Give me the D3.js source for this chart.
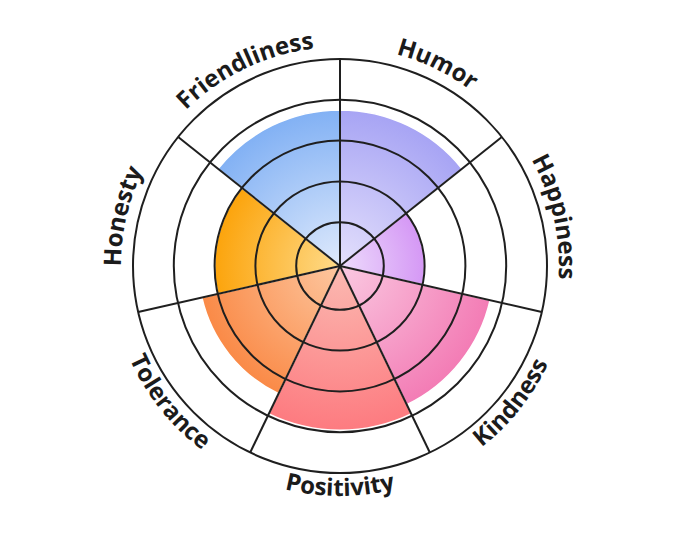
<!DOCTYPE html>
<html>
<head>
<meta charset="utf-8">
<script src="https://cdn.jsdelivr.net/npm/d3@7"></script>
<style>
  html, body { margin: 0; padding: 0; background: #ffffff; }
  svg { display: block; }
</style>
</head>
<body>
<svg id="chart" width="680" height="548"></svg>
<script>
// ---- data ----
const categories = ["Humor", "Happiness", "Kindness", "Positivity", "Tolerance", "Honesty", "Friendliness"];
const values = [75, 40, 74, 79, 68, 60, 75];
const ringTicks = [20, 40, 60, 80, 100];
const innerColors = ["#e4e0fc", "#eddcfc", "#fac9e1", "#fbbab2", "#fdc7a0", "#fedb8a", "#dfeafc"];
const outerColors = ["#a7a4f4", "#d598f5", "#f37cb5", "#fd7b80", "#fa8a47", "#fca40c", "#82b1f4"];

// ---- layout ----
const W = 680, H = 548;
const cx = 340, cy = 266;
const R = 207;

const svg = d3.select("#chart");
const g = svg.append("g").attr("transform", `translate(${cx},${cy})`);

const angle = d3.scaleBand().domain(categories).range([0, 2 * Math.PI]).paddingInner(0).paddingOuter(0);
const r = d3.scaleLinear().domain([0, 100]).range([3, R]);

// gradients
const defs = svg.append("defs");
categories.forEach((c, i) => {
  const grad = defs.append("radialGradient")
    .attr("id", "grad" + i)
    .attr("gradientUnits", "userSpaceOnUse")
    .attr("cx", 0).attr("cy", 0).attr("fx", 0).attr("fy", 0)
    .attr("r", r(values[i]));
  grad.append("stop").attr("offset", "0%").attr("stop-color", innerColors[i]);
  grad.append("stop").attr("offset", "100%").attr("stop-color", outerColors[i]);
});

// wedges
const arc = d3.arc()
  .innerRadius(0)
  .outerRadius((d, i) => r(d.v))
  .startAngle(d => angle(d.c))
  .endAngle(d => angle(d.c) + angle.bandwidth());

const data = categories.map((c, i) => ({ c, v: values[i], i }));
g.selectAll("path.wedge")
  .data(data)
  .join("path")
  .attr("class", "wedge")
  .attr("d", arc)
  .attr("fill", d => `url(#grad${d.i})`)
  .attr("stroke", "#ffffff")
  .attr("stroke-width", 1.5);

// rings
const gridColor = "#1f1f1f";
g.selectAll("circle.ring")
  .data(ringTicks)
  .join("circle")
  .attr("class", "ring")
  .attr("r", d => r(d))
  .attr("fill", "none")
  .attr("stroke", gridColor)
  .attr("stroke-width", 2);

// spokes
g.selectAll("line.spoke")
  .data(categories)
  .join("line")
  .attr("class", "spoke")
  .attr("x1", 0).attr("y1", 0)
  .attr("x2", d => R * Math.sin(angle(d)))
  .attr("y2", d => -R * Math.cos(angle(d)))
  .attr("stroke", gridColor)
  .attr("stroke-width", 2);

// curved labels
const half = angle.bandwidth() / 2;
function pt(rad, a) { return [rad * Math.sin(a), -rad * Math.cos(a)]; }
categories.forEach((c, i) => {
  const mid = angle(c) + half;
  const flip = mid > Math.PI / 2 && mid < 3 * Math.PI / 2;
  let d;
  if (!flip) {
    const rad = 219;
    const p0 = pt(rad, mid - half), p1 = pt(rad, mid + half);
    d = `M${p0[0]},${p0[1]} A${rad},${rad} 0 0 1 ${p1[0]},${p1[1]}`;
  } else {
    const rad = 230;
    const p0 = pt(rad, mid + half), p1 = pt(rad, mid - half);
    d = `M${p0[0]},${p0[1]} A${rad},${rad} 0 0 0 ${p1[0]},${p1[1]}`;
  }
  defs.append("path").attr("id", "lbl" + i).attr("d", d).attr("transform", `translate(${cx},${cy})`);
  svg.append("text")
    .attr("font-family", "'Open Sans', 'Noto Sans', sans-serif")
    .attr("font-weight", 700)
    .attr("font-size", 24)
    .attr("fill", "#1b1b1b")
    .append("textPath")
    .attr("href", "#lbl" + i)
    .attr("startOffset", "50%")
    .attr("text-anchor", "middle")
    .text(c);
});
</script>
</body>
</html>
